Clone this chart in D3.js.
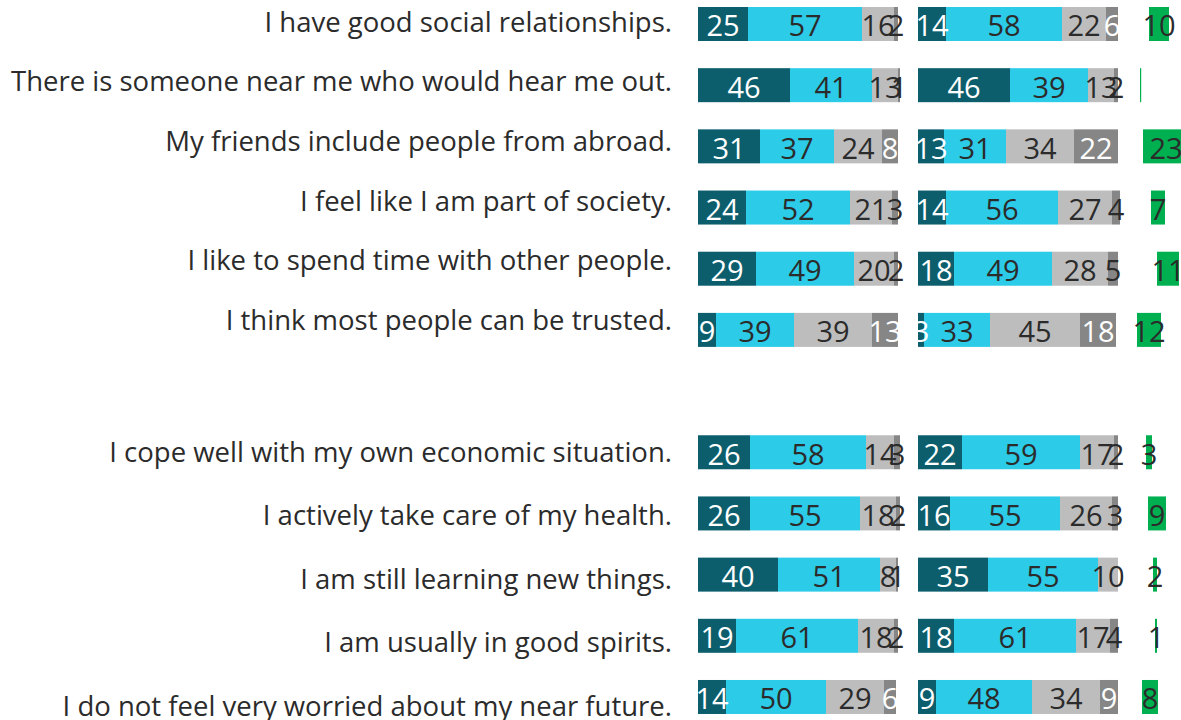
<!DOCTYPE html>
<html>
<head>
<meta charset="utf-8">
<script src="https://cdn.jsdelivr.net/npm/d3@7"></script>
<style>
  html, body { margin: 0; padding: 0; background: #ffffff; }
  svg { display: block; }
  text { font-family: "Open Sans", "Noto Sans", sans-serif; }
</style>
</head>
<body>
<svg id="chart" width="1181" height="720"></svg>
<script>
// Statements, in display order (two groups)
const statements = [
  "I have good social relationships.",
  "There is someone near me who would hear me out.",
  "My friends include people from abroad.",
  "I feel like I am part of society.",
  "I like to spend time with other people.",
  "I think most people can be trusted.",
  "I cope well with my own economic situation.",
  "I actively take care of my health.",
  "I am still learning new things.",
  "I am usually in good spirits.",
  "I do not feel very worried about my near future."
];
const firstGroupSize = 6;

// First panel: share of answers (%)
const p1Agree        = [25, 46, 31, 24, 29,  9, 26, 26, 40, 19, 14];
const p1SomewhatAgree = [57, 41, 37, 52, 49, 39, 58, 55, 51, 61, 50];
const p1SomewhatNot  = [16, 13, 24, 21, 20, 39, 14, 18,  8, 18, 29];
const p1Not          = [ 2,  1,  8,  3,  2, 13,  3,  2,  1,  2,  6];

// Second panel: share of answers (%)
const p2Agree        = [14, 46, 13, 14, 18,  3, 22, 16, 35, 18,  9];
const p2SomewhatAgree = [58, 39, 31, 56, 49, 33, 59, 55, 55, 61, 48];
const p2SomewhatNot  = [22, 13, 34, 27, 28, 45, 17, 26, 10, 17, 34];
const p2Not          = [ 6,  2, 22,  4,  5, 18,  2,  3,  0,  4,  9];

// Third panel: gap in points, preceded by an unlabelled blank lead
const gapLead   = [6, 1.5, 3, 7, 10, 0, 4.5, 5.5, 8, 9, 2.5];
const gapValues = [10, 0, 23, 7, 11, 12, 3, 9, 2, 1, 8];

const segmentColors = ["#0c5e6d", "#2ccbe8", "#bdbdbd", "#868686"];
const gapColor = "#00b050";
const darkText = "#2b2b2b";

const svg = d3.select("#chart");

// Row layout: 11 statements with an empty slot between the two groups
const slotOf = i => (i < firstGroupSize ? i : i + 1);
const step = 61.18, barH = 34, firstTop = 7;
const pInner = 1 - barH / step, pOuter = pInner / 2;
const r0 = firstTop - step * pOuter;
const y = d3.scaleBand()
  .domain(d3.range(statements.length + 1))
  .range([r0, r0 + step * (statements.length + 1)])
  .paddingInner(pInner)
  .paddingOuter(pOuter);

// Statement labels sit in their own column spacing
const labelA = d3.scalePoint().domain(d3.range(firstGroupSize)).range([22, 320]);
const labelB = d3.scalePoint().domain(d3.range(firstGroupSize, statements.length)).range([452, 706]);
const labelY = i => (i < firstGroupSize ? labelA(i) : labelB(i));
const labelSize = 27.5;

svg.append("g").selectAll("text")
  .data(statements)
  .join("text")
  .attr("x", 672)
  .attr("y", (d, i) => labelY(i) + labelSize * 0.357)
  .attr("text-anchor", "end")
  .attr("font-size", labelSize)
  .attr("fill", darkText)
  .text(d => d);

// Percentage scales for the panels
const panelWidth = 200;
const x1 = d3.scaleLinear().domain([0, 100]).range([698, 698 + panelWidth]);
const x2 = d3.scaleLinear().domain([0, 100]).range([918, 918 + panelWidth]);
const x3 = d3.scaleLinear().domain([0, 100]).range([1137, 1137 + panelWidth]);

const numSize = 29;
const keys = ["a", "b", "c", "d"];

function drawPanel(x, cols) {
  const rows = statements.map((s, i) => ({
    i, a: cols[0][i], b: cols[1][i], c: cols[2][i], d: cols[3][i]
  }));
  const series = d3.stack().keys(keys)(rows);
  const g = svg.append("g");

  g.selectAll("g.seg")
    .data(series)
    .join("g")
    .attr("class", "seg")
    .attr("fill", (s, k) => segmentColors[k])
    .selectAll("rect")
    .data(s => s)
    .join("rect")
    .attr("x", d => x(d[0]))
    .attr("y", d => y(slotOf(d.data.i)))
    .attr("width", d => Math.max(0, x(d[1]) - x(d[0])))
    .attr("height", y.bandwidth());

  const labels = [];
  series.forEach((s, k) => s.forEach(d => {
    const v = d[1] - d[0];
    if (v > 0) labels.push({ k, v, d });
  }));

  g.selectAll("text")
    .data(labels)
    .join("text")
    .attr("x", o => (x(o.d[0]) + x(o.d[1])) / 2)
    .attr("y", o => y(slotOf(o.d.data.i)) + y.bandwidth() / 2 + numSize * 0.357 + 2)
    .attr("text-anchor", "middle")
    .attr("font-size", numSize)
    .attr("fill", o => (o.k === 0 || (o.k === 3 && o.v >= 6)) ? "#ffffff" : darkText)
    .text(o => o.v);
}

drawPanel(x1, [p1Agree, p1SomewhatAgree, p1SomewhatNot, p1Not]);
drawPanel(x2, [p2Agree, p2SomewhatAgree, p2SomewhatNot, p2Not]);

// Gap panel: invisible lead, then the green bar
const gapRows = statements.map((s, i) => ({ i, lead: gapLead[i], gap: gapValues[i] }));
const gapStack = d3.stack().keys(["lead", "gap"])(gapRows)[1];
const g3 = svg.append("g");
g3.selectAll("rect")
  .data(gapStack)
  .join("rect")
  .attr("x", d => x3(d[0]))
  .attr("y", d => y(slotOf(d.data.i)))
  .attr("width", d => Math.max(1.2, x3(d[1]) - x3(d[0])))
  .attr("height", y.bandwidth())
  .attr("fill", gapColor);
g3.selectAll("text")
  .data(gapStack.filter(d => d.data.gap > 0))
  .join("text")
  .attr("x", d => (x3(d[0]) + x3(d[1])) / 2)
  .attr("y", d => y(slotOf(d.data.i)) + y.bandwidth() / 2 + numSize * 0.357 + 2)
  .attr("text-anchor", "middle")
  .attr("font-size", numSize)
  .attr("fill", darkText)
  .text(d => d.data.gap);
</script>
</body>
</html>
